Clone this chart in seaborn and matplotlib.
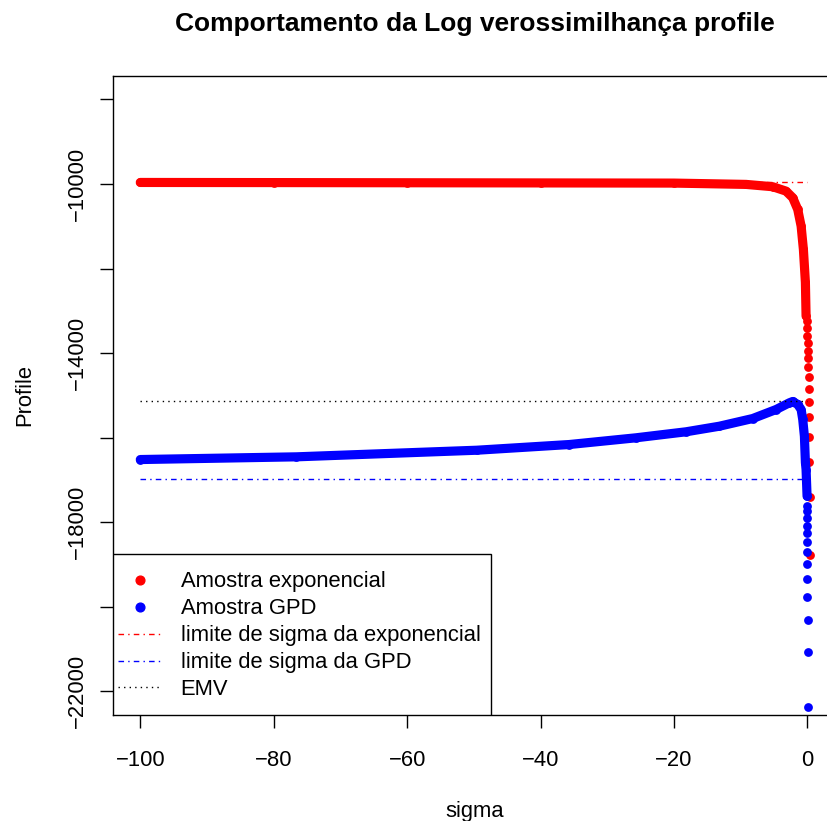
import matplotlib
matplotlib.use('Agg')
import matplotlib.pyplot as plt
from matplotlib.lines import Line2D
from matplotlib.patches import Rectangle
import seaborn as sns

# profile log-likelihood (sigma, profile)
sigma_exp_band = [-100, -80, -60, -40, -20, -9.2, -5.2, -3.2, -2.2, -1.45, -0.94, -0.6, -0.3, -0.2]
prof_exp_band = [-9965, -9968, -9972, -9976, -9980, -10011, -10066, -10170, -10326, -10603,
                 -10998, -11549, -12330, -13127]
sigma_exp_tail = [-0.1, -0.05, 0.0, 0.05, 0.08, 0.11, 0.14, 0.17, 0.2, 0.23, 0.26, 0.29, 0.31, 0.32, 0.33]
prof_exp_tail = [-13245, -13401, -13600, -13756, -13955, -14128, -14324, -14570, -14838, -15152,
                 -15517, -15990, -16572, -17410, -18782]

sigma_gpd_band = [-100, -76.6, -49.6, -35.7, -25.7, -18.2, -13.2, -8.2, -4.7, -2.7, -2.2, -1.45,
                  -0.94, -0.7, -0.45, -0.3, -0.2, -0.05]
prof_gpd_band = [-16518, -16454, -16298, -16163, -16004, -15862, -15730, -15548, -15335, -15176,
                 -15145, -15216, -15335, -15571, -15966, -16589, -16754, -17386]
sigma_gpd_tail = [-0.04, -0.03, -0.025, -0.02, -0.015, -0.01, -0.005, 0.0, 0.005, 0.01, 0.015, 0.02, 0.025]
prof_gpd_tail = [-17623, -17741, -17897, -18079, -18252, -18465, -18701, -18985, -19333, -19759,
                 -20303, -21077, -22369]

# horizontal reference lines
limit_x = [-100, 0]
lim_exp = -9947
lim_gpd = -16979
emv = -15122

xticks = [-100, -80, -60, -40, -20, 0]
xtick_labels = ['−100', '−80', '−60', '−40', '−20', '0']
yticks = [-22000, -20000, -18000, -16000, -14000, -12000, -10000, -8000]
ytick_labels = ['−22000', '', '−18000', '', '−14000', '', '−10000', '']
legend_labels = ['Amostra exponencial', 'Amostra GPD', 'limite de sigma da exponencial',
                 'limite de sigma da GPD', 'EMV']

sns.set_style('white')
plt.rcParams['font.family'] = ['Liberation Sans', 'DejaVu Sans']
plt.rcParams['text.color'] = 'black'
base_fs = 15.8

fig = plt.figure(figsize=(8.27, 8.21), dpi=100, facecolor='white')
ax = fig.add_axes([0.1372, 0.1291, 0.8746, 0.7787])

band_kw = dict(linewidth=6.6, solid_capstyle='round', solid_joinstyle='round',
               sort=False, estimator=None, legend=False)
dot_kw = dict(s=40, linewidth=0, legend=False)

# exponential sample (red), then GPD sample (blue)
sns.lineplot(x=sigma_exp_band, y=prof_exp_band, color='#FF0000', ax=ax, **band_kw)
sns.scatterplot(x=sigma_exp_band + sigma_exp_tail, y=prof_exp_band + prof_exp_tail,
                color='#FF0000', ax=ax, **dot_kw)
sns.lineplot(x=sigma_gpd_band, y=prof_gpd_band, color='#0000FF', ax=ax, **band_kw)
sns.scatterplot(x=sigma_gpd_band + sigma_gpd_tail, y=prof_gpd_band + prof_gpd_tail,
                color='#0000FF', ax=ax, **dot_kw)

dashdot = (0, (4, 3, 1, 3))
dotted = (0, (1, 3))
ax.plot(limit_x, [lim_exp, lim_exp], color='#FF0000', lw=1, linestyle=dashdot)
ax.plot(limit_x, [lim_gpd, lim_gpd], color='#0000FF', lw=1, linestyle=dashdot)
ax.plot(limit_x, [emv, emv], color='black', lw=1, linestyle=dotted)

ax.set_xlim(-104.02, 4.4)
ax.set_ylim(-22560, -7440)
ax.set_xticks(xticks)
ax.set_xticklabels(xtick_labels)
ax.set_yticks(yticks)
ax.set_yticklabels(ytick_labels, rotation=90, va='center')
ax.tick_params(axis='both', bottom=True, left=True, direction='out', length=9.7, width=1,
               color='black', labelsize=base_fs, labelcolor='black')
ax.tick_params(axis='x', pad=15.5)
ax.tick_params(axis='y', pad=8.7)
for s in ax.spines.values():
    s.set_color('black')
    s.set_linewidth(1)
ax.grid(False)

# legend box (bottom left, flush with the frame)
ax.add_patch(Rectangle((0, 0), 0.522, 0.2514, transform=ax.transAxes, facecolor='white',
                       edgecolor='black', linewidth=1, zorder=4))
handles = [
    Line2D([], [], marker='o', linestyle='None', color='#FF0000', markersize=6.3),
    Line2D([], [], marker='o', linestyle='None', color='#0000FF', markersize=6.3),
    Line2D([], [], color='#FF0000', lw=1, linestyle=dashdot),
    Line2D([], [], color='#0000FF', lw=1, linestyle=dashdot),
    Line2D([], [], color='black', lw=1, linestyle=dotted),
]
leg = ax.legend(handles, legend_labels, loc='upper left', bbox_to_anchor=(0.0062, 0.2246),
                frameon=False, borderpad=0, borderaxespad=0, handlelength=2.0,
                handletextpad=0.86, labelspacing=0.27, fontsize=base_fs, numpoints=1,
                labelcolor='black')
leg.set_zorder(5)

fig.text(475 / 827, 1 - 31 / 821, 'Comportamento da Log verossimilhança profile',
         ha='center', va='baseline', fontsize=19, fontweight='bold', color='black')
fig.text(475 / 827, 1 - 817 / 821, 'sigma', ha='center', va='baseline', fontsize=base_fs,
         color='black')
fig.text(30 / 827, 1 - 395.4 / 821, 'Profile', rotation=90, rotation_mode='anchor',
         ha='center', va='baseline', fontsize=base_fs, color='black')

plt.savefig('out.png', dpi=100, facecolor='white')
